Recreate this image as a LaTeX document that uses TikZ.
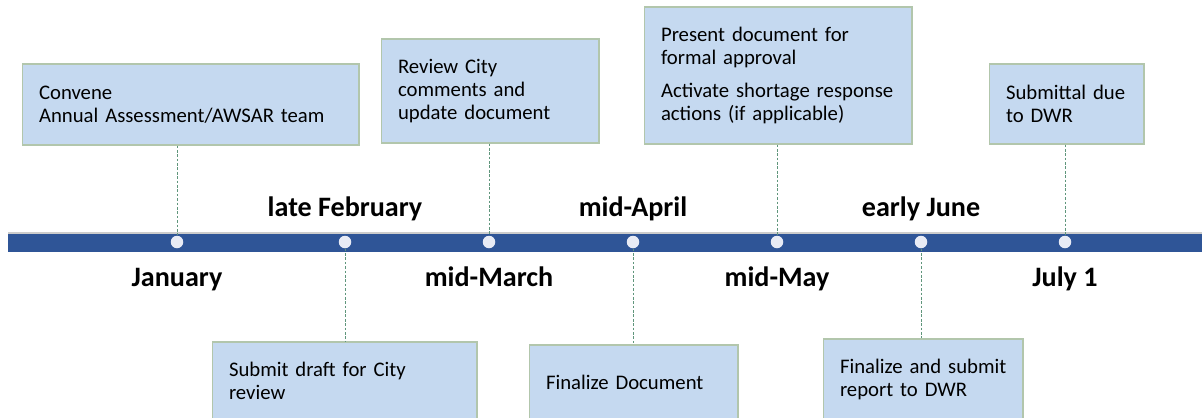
\documentclass[tikz,border=0pt]{standalone}
\usepackage{fontspec}
\setmainfont{Carlito}
\definecolor{barblue}{RGB}{47,85,151}
\definecolor{boxfill}{RGB}{197,217,240}
\definecolor{boxline}{RGB}{178,198,172}
\definecolor{dotfill}{RGB}{232,235,245}
\definecolor{tickline}{RGB}{96,150,124}

\begin{document}
\begin{tikzpicture}[x=0.02cm,y=-0.02cm,
  box/.style={rectangle,fill=boxfill,draw=boxline,line width=0.6pt,align=left,inner xsep=0.34cm,inner ysep=0pt,font=\fontsize{11.8}{13}\selectfont},
  dot/.style={circle,fill=dotfill,inner sep=0pt,minimum size=0.25cm},
  month/.style={anchor=base,font=\fontsize{16}{19}\selectfont\bfseries},
  tick/.style={tickline,line width=0.5pt,dash pattern=on 1.5pt off 1pt}]

  \useasboundingbox (0,0) rectangle (1202,417);

  % timeline bar
  \fill[barblue] (8,233) rectangle (1210,252);
  \draw[gray!40,line width=0.8pt] (8,233) -- (1210,233);

  \foreach \i/\x in {1/177,2/345,3/489,4/633,5/777,6/921,7/1065}
    \node[dot] (d\i) at (\x,242) {};

  % dates
  \node[month] (jan) at (177,286) {January};
  \node[month] (feb) at (345,216) {late February};
  \node[month] (mar) at (489,286) {mid-March};
  \node[month] (apr) at (633,216) {mid-April};
  \node[month] (may) at (777,286) {mid-May};
  \node[month] (jun) at (921,216) {early June};
  \node[month] (jul) at (1065,286) {July 1};

  % steps
  \node[box,text width=6.06cm,minimum height=1.62cm] (convene) at (190.5,104.5) {Convene\\Annual Assessment/AWSAR team};
  \node[box,text width=4.62cm,minimum height=1.54cm] (draft) at (344.5,380.5) {Submit draft for City\\review};
  \node[box,text width=3.68cm,minimum height=2.08cm] (review) at (490,91) {Review City\\comments and\\update document};
  \node[box,text width=3.50cm,minimum height=1.48cm] (final) at (633.5,382) {Finalize Document};
  \node[box,text width=4.68cm,minimum height=2.74cm] (present) at (778,75.5) {Present document for\\formal approval\\[5.5pt]Activate shortage response\\actions (if applicable)};
  \node[box,text width=3.32cm,minimum height=1.62cm] (submit) at (923,379.5) {\mbox{Finalize and submit}\\report to DWR};
  \node[box,text width=2.42cm,minimum height=1.60cm] (due) at (1066.5,104) {Submittal due\\to DWR};

  \draw[tick] (d1 |- convene.south) -- (d1);
  \draw[tick] (d2) -- (d2 |- draft.north);
  \draw[tick] (d3 |- review.south) -- (d3);
  \draw[tick] (d4) -- (d4 |- final.north);
  \draw[tick] (d5 |- present.south) -- (d5);
  \draw[tick] (d6) -- (d6 |- submit.north);
  \draw[tick] (d7 |- due.south) -- (d7);
\end{tikzpicture}
\end{document}
